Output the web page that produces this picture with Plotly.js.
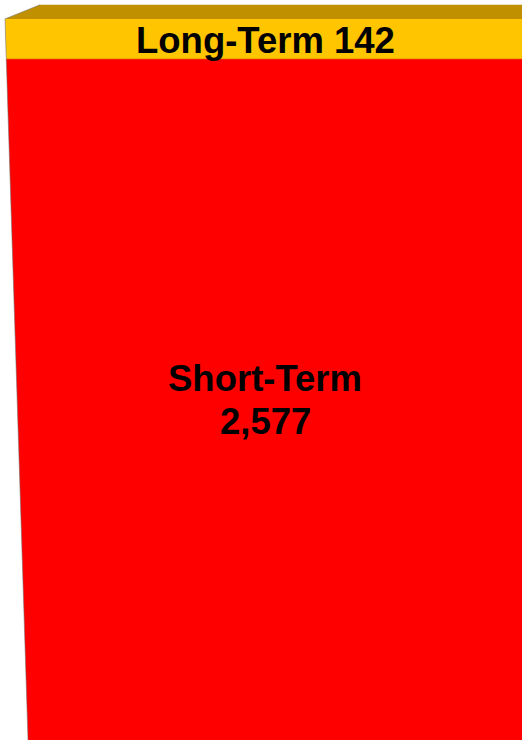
<!DOCTYPE html>
<html>
<head>
<meta charset="utf-8">
<script src="https://cdn.plot.ly/plotly-3.0.1.min.js"></script>
<style>html,body{margin:0;padding:0;background:#fff;}#chart{width:522px;height:740px;}</style>
</head>
<body>
<div id="chart"></div>
<script>
// Data
const categories = ['Short-Term', 'Long-Term'];
const values = [2577, 142];
const valueLabels = ['2,577', '142'];

// Styles
const frontColors = ['#FF0000', '#FFC600'];
const topColor = '#C09000';

// Scale / geometry settings (axis units)
const yMin = 160, yMax = 2786;       // visible value range
const xMax = 522;
const slant = 0.009;                 // left-edge lean (x units per value unit)
const leftTop = 5;                   // left edge x at stack top
const depthX = 35, depthY = 50;      // top face depth offsets
const rightX = 560;

const total = values.reduce((a, b) => a + b, 0);
const xl = v => leftTop + (total - v) * slant;

const traces = [];
let base = 0;
const bounds = [];
values.forEach((v, i) => {
  const y0 = base, y1 = base + v;
  bounds.push([y0, y1]);
  traces.push({
    type: 'scatter', mode: 'lines', fill: 'toself',
    x: [xl(y0), rightX, rightX, xl(y1), xl(y0)],
    y: [y0, y0, y1, y1, y0],
    fillcolor: frontColors[i],
    line: {width: 0},
    hoverinfo: 'skip', name: categories[i], showlegend: false
  });
  base = y1;
});
// top face
traces.push({
  type: 'scatter', mode: 'lines', fill: 'toself',
  x: [xl(total), xl(total) + depthX, rightX, rightX, xl(total)],
  y: [total, total + depthY, total + depthY, total, total],
  fillcolor: topColor, line: {width: 0}, hoverinfo: 'skip', showlegend: false
});
// edge lines
traces.push({
  type: 'scatter', mode: 'lines',
  x: [xl(0), xl(total), xl(total) + depthX],
  y: [0, total, total + depthY],
  line: {color: 'rgba(110,110,110,0.55)', width: 1},
  hoverinfo: 'skip', showlegend: false
});
traces.push({
  type: 'scatter', mode: 'lines',
  x: [xl(values[0]), rightX],
  y: [values[0], values[0]],
  line: {color: 'rgba(230,120,0,0.6)', width: 1},
  hoverinfo: 'skip', showlegend: false
});

const font = {family: 'Liberation Sans, Arial, sans-serif', size: 36.5, color: '#000', weight: 700};
const labelX = 265;
const annotations = [
  {x: labelX, y: (Math.max(bounds[0][0], yMin) + bounds[0][1]) / 2,
   text: '<b>' + categories[0] + '</b>', yshift: 21, showarrow: false, font: font,
   xref: 'x', yref: 'y'},
  {x: labelX, y: (Math.max(bounds[0][0], yMin) + bounds[0][1]) / 2,
   text: '<b>' + valueLabels[0] + '</b>', yshift: -22, showarrow: false, font: font,
   xref: 'x', yref: 'y'},
  {x: labelX, y: (bounds[1][0] + bounds[1][1]) / 2,
   text: '<b>' + categories[1] + ' ' + valueLabels[1] + '</b>', yshift: -2, showarrow: false, font: font,
   xref: 'x', yref: 'y'}
];

const layout = {
  width: 522, height: 740,
  margin: {l: 0, r: 0, t: 0, b: 0},
  paper_bgcolor: '#fff', plot_bgcolor: '#fff',
  xaxis: {range: [0, xMax], visible: false, fixedrange: true},
  yaxis: {range: [yMin, yMax], visible: false, fixedrange: true},
  annotations: annotations,
  showlegend: false
};
Plotly.newPlot('chart', traces, layout, {displayModeBar: false, staticPlot: true});
</script>
</body>
</html>
